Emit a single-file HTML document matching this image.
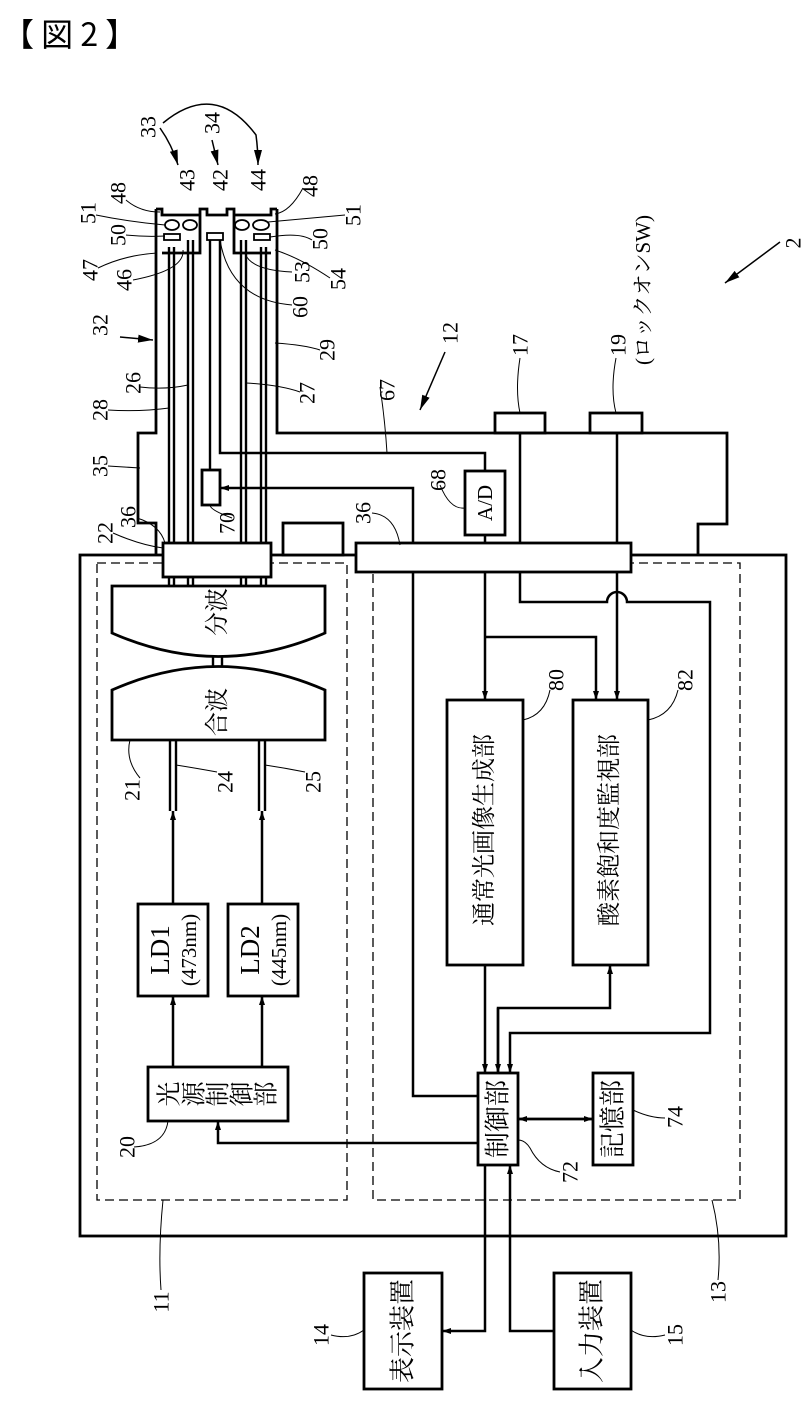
<!DOCTYPE html>
<html><head><meta charset="utf-8"><style>
html,body{margin:0;padding:0;background:#fff}
svg{display:block}
text{font-family:"Liberation Serif","Noto Serif CJK JP",serif;fill:#000}
.n{font-size:22px}
.j{font-family:"Liberation Serif","Noto Serif CJK JP","Noto Sans CJK JP",serif}
</style></head><body>
<svg width="812" height="1403" viewBox="0 0 812 1403" xmlns="http://www.w3.org/2000/svg">
<defs>
<marker id="a" markerUnits="userSpaceOnUse" markerWidth="10" markerHeight="8" refX="9" refY="4" orient="auto"><path d="M0,1 L9,4 L0,7 z" fill="#000"/></marker>
<marker id="b" markerUnits="userSpaceOnUse" markerWidth="16" markerHeight="10" refX="15" refY="5" orient="auto"><path d="M0,1 L15,5 L0,9 z" fill="#000"/></marker>
</defs>
<text x="2" y="46" style="font-family:'Noto Sans CJK JP',sans-serif;font-size:32px">【 図 2 】</text>

<g fill="none" stroke="#000" stroke-width="2.8">
<rect x="80" y="555" width="706" height="681"/>
<path d="M156,209 V433 H138 V523 H156 V555"/>
<path d="M277,209 V433 H727 V524 H698 V555"/>
<path d="M156,209 H162 V215 H200 V253 H162 M200,215 V209 H207 V215 H227 V209 H234 V215 H271 V209 H277 M234,215 V253 H271"/>
<rect x="283" y="523" width="60" height="32" fill="#fff"/>
<rect x="495" y="413" width="50" height="20"/>
<rect x="590" y="413" width="52" height="20"/>
</g>
<g fill="none" stroke="#000" stroke-width="1.8">
<ellipse cx="172" cy="225" rx="7" ry="5"/><ellipse cx="190" cy="225" rx="7" ry="5"/>
<ellipse cx="242" cy="225" rx="7" ry="5"/><ellipse cx="261" cy="225" rx="8" ry="5"/>
<rect x="164" y="234" width="16" height="6"/><rect x="254" y="234" width="16" height="6"/>
<rect x="207" y="233" width="16" height="7"/>
</g>
<g stroke="#000" stroke-width="2.4">
<line x1="169" y1="247" x2="169" y2="586"/><line x1="174" y1="247" x2="174" y2="586"/>
<line x1="188" y1="240" x2="188" y2="586"/><line x1="193" y1="240" x2="193" y2="586"/>
<line x1="241" y1="240" x2="241" y2="586"/><line x1="246" y1="240" x2="246" y2="586"/>
<line x1="261" y1="247" x2="261" y2="586"/><line x1="266" y1="247" x2="266" y2="586"/>
<line x1="210" y1="240" x2="210" y2="470"/>
<line x1="213" y1="656" x2="213" y2="667"/><line x1="222" y1="656" x2="222" y2="667"/>
<line x1="170" y1="740" x2="170" y2="811"/><line x1="176" y1="740" x2="176" y2="811"/>
<line x1="259" y1="740" x2="259" y2="811"/><line x1="265" y1="740" x2="265" y2="811"/>
</g>
<g fill="none" stroke="#000" stroke-width="1.3" stroke-dasharray="9,5">
<rect x="97" y="563" width="250" height="637"/>
<rect x="373" y="563" width="367" height="637"/>
</g>
<g fill="#fff" stroke="#000" stroke-width="2.8">
<rect x="163" y="543" width="108" height="34"/>
<rect x="356" y="543" width="275" height="29"/>
<rect x="202" y="470" width="18" height="35"/>
<rect x="465" y="471" width="40" height="64"/>
<path d="M112,586 H325 V633 Q218,680 112,633 Z"/>
<path d="M112,690 Q218,643 325,690 V740 H112 Z"/>
<rect x="138" y="904" width="70" height="92"/>
<rect x="228" y="904" width="70" height="92"/>
<rect x="148" y="1067" width="140" height="54"/>
<rect x="447" y="700" width="76" height="265"/>
<rect x="573" y="700" width="75" height="265"/>
<rect x="478" y="1073" width="40" height="92"/>
<rect x="593" y="1073" width="40" height="92"/>
<rect x="364" y="1273" width="78" height="116"/>
<rect x="554" y="1273" width="77" height="116"/>
</g>
<g fill="none" stroke="#000" stroke-width="2.5">
<path d="M220,240 V453 H485 V471"/>
<line x1="485" y1="535" x2="485" y2="543"/>
<path d="M413,543 V488 H220" marker-end="url(#a)"/>
<line x1="520" y1="433" x2="520" y2="543"/>
<line x1="617" y1="433" x2="617" y2="543"/>
<path d="M485,572 V700" marker-end="url(#a)"/>
<path d="M485,637 H596 V700" marker-end="url(#a)"/>
<path d="M617,572 V700" marker-end="url(#a)"/>
<path d="M520,572 V602 H607 A10,10 0 0 1 627,602 H710 V1033 H510 V1073" marker-end="url(#a)"/>
<path d="M413,572 V1096 H478"/>
<path d="M485,965 V1073" marker-end="url(#a)"/>
<path d="M498,1073 V1008 H610 V965" marker-end="url(#a)"/>
<path d="M498,1008 V1073" marker-end="url(#a)"/>
<path d="M518,1119 H593" marker-end="url(#a)"/>
<path d="M593,1119 H518" marker-end="url(#a)"/>
<path d="M478,1143 H218 V1121" marker-end="url(#a)"/>
<path d="M485,1165 V1331 H442" marker-end="url(#a)"/>
<path d="M554,1331 H510 V1165" marker-end="url(#a)"/>
<path d="M173,1067 V996" marker-end="url(#a)"/>
<path d="M262,1067 V996" marker-end="url(#a)"/>
<path d="M173,904 V811" marker-end="url(#a)"/>
<path d="M262,904 V811" marker-end="url(#a)"/>
</g>
<g fill="none" stroke="#000" stroke-width="1.5">
<path d="M160,128 Q172,145 178,165" marker-end="url(#b)"/>
<path d="M163,123 Q215,80 256,135 Q258,150 258,165" marker-end="url(#b)"/>
<path d="M212,140 L218,165" marker-end="url(#b)"/>
<path d="M120,337 L153,340" marker-end="url(#b)"/>
<path d="M445,352 L420,410" marker-end="url(#b)"/>
<path d="M780,242 L725,283" marker-end="url(#b)"/>
</g>
<g fill="none" stroke="#000" stroke-width="1">
<path d="M126,200 Q140,212 160,212"/><path d="M96,215 Q130,222 165,225"/>
<path d="M126,235 Q145,237 165,236"/><path d="M98,268 Q125,255 157,253"/>
<path d="M133,280 Q185,270 183,250"/>
<path d="M303,188 Q290,212 275,214"/><path d="M345,215 L268,222"/>
<path d="M312,240 Q300,232 270,237"/><path d="M330,278 Q300,258 275,250"/>
<path d="M292,272 Q250,270 245,253"/><path d="M292,305 Q230,300 220,240"/>
<path d="M320,350 Q305,345 275,343"/><path d="M300,392 Q280,385 246,383"/>
<path d="M140,387 Q165,390 188,385"/><path d="M108,410 Q140,412 169,408"/>
<path d="M108,466 L140,468"/><path d="M113,533 Q140,545 163,548"/>
<path d="M137,518 Q160,525 165,543"/><path d="M232,518 Q210,510 210,505"/>
<path d="M380,387 Q385,420 387,453"/><path d="M372,513 Q395,515 400,545"/>
<path d="M440,485 Q450,510 465,508"/><path d="M520,358 Q515,390 520,413"/>
<path d="M616,358 Q610,390 616,413"/>
<path d="M140,778 Q125,760 130,740"/><path d="M217,772 Q195,768 176,765"/>
<path d="M305,772 Q285,768 265,765"/><path d="M134,1147 Q165,1145 168,1121"/>
<path d="M550,690 Q545,715 523,720"/><path d="M678,690 Q672,715 648,720"/>
<path d="M560,1172 Q540,1168 530,1148 Q525,1140 518,1140"/>
<path d="M665,1118 Q650,1118 633,1110"/>
<path d="M161,1290 Q158,1250 163,1200"/><path d="M718,1280 Q722,1240 712,1200"/>
<path d="M331,1335 Q350,1340 364,1330"/><path d="M665,1335 Q645,1340 631,1330"/>
</g>
<g class="n" text-anchor="middle" dominant-baseline="central">
<text transform="translate(148,127) rotate(-90)">33</text>
<text transform="translate(212,123) rotate(-90)">34</text>
<text transform="translate(187,180) rotate(-90)">43</text>
<text transform="translate(220,180) rotate(-90)">42</text>
<text transform="translate(258,180) rotate(-90)">44</text>
<text transform="translate(118,193) rotate(-90)">48</text>
<text transform="translate(310,186) rotate(-90)">48</text>
<text transform="translate(88,213) rotate(-90)">51</text>
<text transform="translate(353,215) rotate(-90)">51</text>
<text transform="translate(118,235) rotate(-90)">50</text>
<text transform="translate(320,239) rotate(-90)">50</text>
<text transform="translate(90,270) rotate(-90)">47</text>
<text transform="translate(124,280) rotate(-90)">46</text>
<text transform="translate(302,272) rotate(-90)">53</text>
<text transform="translate(300,307) rotate(-90)">60</text>
<text transform="translate(338,279) rotate(-90)">54</text>
<text transform="translate(100,325) rotate(-90)">32</text>
<text transform="translate(327,350) rotate(-90)">29</text>
<text transform="translate(307,393) rotate(-90)">27</text>
<text transform="translate(133,383) rotate(-90)">26</text>
<text transform="translate(100,410) rotate(-90)">28</text>
<text transform="translate(100,466) rotate(-90)">35</text>
<text transform="translate(105,533) rotate(-90)">22</text>
<text transform="translate(128,517) rotate(-90)">36</text>
<text transform="translate(227,523) rotate(-90)">70</text>
<text transform="translate(387,390) rotate(-90)">67</text>
<text transform="translate(363,513) rotate(-90)">36</text>
<text transform="translate(438,480) rotate(-90)">68</text>
<text transform="translate(450,333) rotate(-90)">12</text>
<text transform="translate(520,345) rotate(-90)">17</text>
<text transform="translate(618,345) rotate(-90)">19</text>
<text transform="translate(793,243) rotate(-90)">2</text>
<text transform="translate(132,790) rotate(-90)">21</text>
<text transform="translate(225,782) rotate(-90)">24</text>
<text transform="translate(313,782) rotate(-90)">25</text>
<text transform="translate(127,1147) rotate(-90)">20</text>
<text transform="translate(556,680) rotate(-90)">80</text>
<text transform="translate(685,680) rotate(-90)">82</text>
<text transform="translate(570,1172) rotate(-90)">72</text>
<text transform="translate(675,1117) rotate(-90)">74</text>
<text transform="translate(161,1302) rotate(-90)">11</text>
<text transform="translate(718,1292) rotate(-90)">13</text>
<text transform="translate(321,1335) rotate(-90)">14</text>
<text transform="translate(675,1335) rotate(-90)">15</text>
<text class="j" transform="translate(643,290) rotate(-90)" style="font-size:21px">(ロックオンSW)</text>
<text transform="translate(485,503) rotate(-90)" style="font-size:21px">A/D</text>
<text transform="translate(160,950) rotate(-90)" style="font-size:27px">LD1</text>
<text transform="translate(189,950) rotate(-90)" style="font-size:21px">(473nm)</text>
<text transform="translate(250,950) rotate(-90)" style="font-size:27px">LD2</text>
<text transform="translate(279,950) rotate(-90)" style="font-size:21px">(445nm)</text>
</g>
<g class="j" text-anchor="middle" dominant-baseline="central" style="font-size:24px">
<text transform="translate(218,612) rotate(-90)">分波</text>
<text transform="translate(218,712) rotate(-90)">合波</text>
<text transform="translate(485,830) rotate(-90)">通常光画像生成部</text>
<text transform="translate(610,830) rotate(-90)">酸素飽和度監視部</text>
<text transform="translate(498,1119) rotate(-90)" style="font-size:26px">制御部</text>
<text transform="translate(613,1119) rotate(-90)" style="font-size:26px">記憶部</text>
<text transform="translate(403,1331) rotate(-90)" style="font-size:26px">表示装置</text>
<text transform="translate(592,1331) rotate(-90)" style="font-size:26px">入力装置</text>
<text transform="translate(170,1094) rotate(-90)" style="font-size:25px">光</text>
<text transform="translate(195,1094) rotate(-90)" style="font-size:25px">源</text>
<text transform="translate(219,1094) rotate(-90)" style="font-size:25px">制</text>
<text transform="translate(243,1094) rotate(-90)" style="font-size:25px">御</text>
<text transform="translate(267,1094) rotate(-90)" style="font-size:25px">部</text>
</g>
</svg>
</body></html>
